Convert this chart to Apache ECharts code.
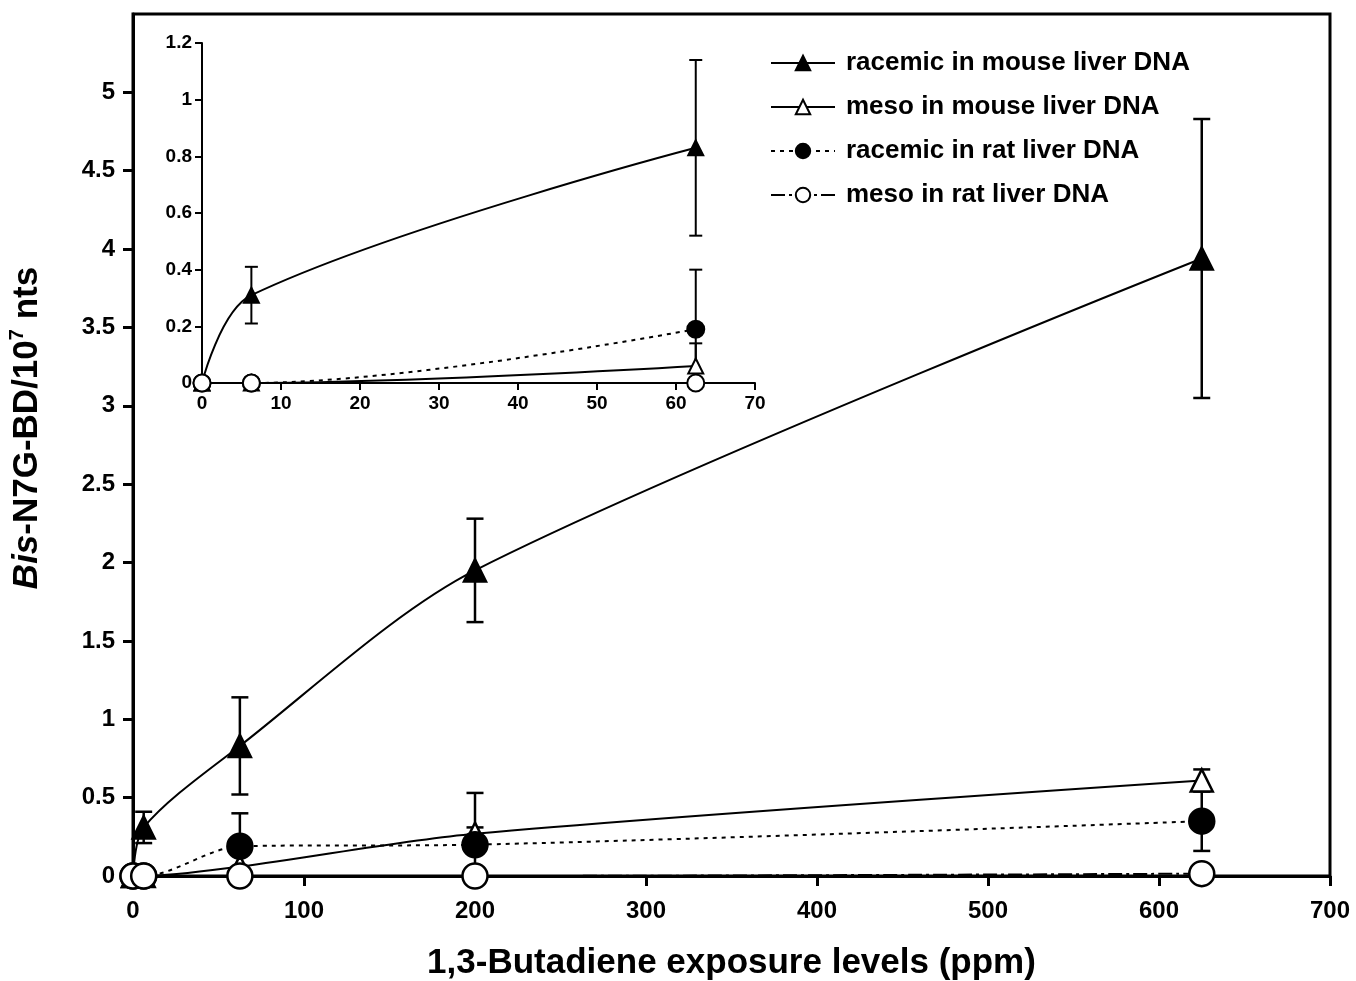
<!DOCTYPE html>
<html>
<head>
<meta charset="utf-8">
<script src="https://cdn.jsdelivr.net/npm/echarts@6/dist/echarts.min.js"></script>
<style>
html,body{margin:0;padding:0;background:#fff;}
#chart{width:1356px;height:981px;}
</style>
</head>
<body>
<div id="chart"></div>
<script>
// exposure levels (ppm)
var doses = [0, 6.25, 62.5, 200, 625];
var insetCount = 3; // inset shows the first three doses
// tick labels shown on the main y axis (axis runs to 5.5)
var yTicks = [0, 0.5, 1, 1.5, 2, 2.5, 3, 3.5, 4, 4.5, 5];
// series values (adducts / 10^7 nts) and their errors
var racMouse = [0, 0.31, 0.83, 1.95, 3.94];
var racMouseErr = [0, 0.10, 0.31, 0.33, 0.89];
var mesoMouse = [0, 0.0, 0.06, 0.27, 0.61];
var mesoMouseErr = [0, 0, 0.08, 0.04, 0.07];
var racRat = [0, 0, 0.19, 0.20, 0.35];
var racRatErr = [0, 0, 0.21, 0.33, 0.19];
var mesoRat = [0, 0, 0, 0, 0.015];
var mesoRatErr = [0, 0, 0, 0, 0];
var names = ['racemic in mouse liver DNA', 'meso in mouse liver DNA', 'racemic in rat liver DNA', 'meso in rat liver DNA'];

var fontFam = '"Liberation Sans", Arial, sans-serif';

function pairs(vals, n){
	var out = [];
	for (var i = 0; i < n; i++) out.push([doses[i], vals[i]]);
	return out;
}
function errPairs(vals, errs, n){
	var out = [];
	for (var i = 0; i < n; i++) {
		if (errs[i] > 0) out.push([doses[i], vals[i] - errs[i], vals[i] + errs[i]]);
	}
	return out;
}
//误差线
function errRender(capW, lw){
	return function(params, api){
		var x = api.value(0);
		var lo = api.coord([x, api.value(1)]);
		var hi = api.coord([x, api.value(2)]);
		var st = {stroke:'#000', lineWidth:lw};
		return {type:'group', children:[
			{type:'line', shape:{x1:lo[0], y1:lo[1], x2:hi[0], y2:hi[1]}, style:st},
			{type:'line', shape:{x1:hi[0]-capW/2, y1:hi[1], x2:hi[0]+capW/2, y2:hi[1]}, style:st},
			{type:'line', shape:{x1:lo[0]-capW/2, y1:lo[1], x2:lo[0]+capW/2, y2:lo[1]}, style:st}
		]};
	};
}

var styles = [
	{symbol:'triangle', fill:'#000', type:'solid', vals:racMouse, errs:racMouseErr},
	{symbol:'triangle', fill:'#fff', type:'solid', vals:mesoMouse, errs:mesoMouseErr},
	{symbol:'circle', fill:'#000', type:[4,5], vals:racRat, errs:racRatErr},
	{symbol:'circle', fill:'#fff', type:[14,4,3,4], vals:mesoRat, errs:mesoRatErr}
];

var series = [];
styles.forEach(function(s, i){
	// main chart
	series.push({
		name:names[i], type:'line', xAxisIndex:0, yAxisIndex:0,
		data:pairs(s.vals, doses.length), smooth:0.3,
		symbol:s.symbol, symbolSize:s.symbol == 'triangle' ? 22 : 25,
		lineStyle:{color:'#000', width:2, type:s.type},
		itemStyle:{color:s.fill, borderColor:'#000', borderWidth:2.5},
		z:3, animation:false
	});
	series.push({
		type:'custom', xAxisIndex:0, yAxisIndex:0, clip:true,
		renderItem:errRender(17, 2.5), data:errPairs(s.vals, s.errs, doses.length),
		encode:{x:0, y:[1,2]}, z:2, silent:true, animation:false
	});
	// inset
	series.push({
		name:names[i], type:'line', xAxisIndex:1, yAxisIndex:1,
		data:pairs(s.vals, insetCount), smooth:0.35,
		symbol:s.symbol, symbolSize:s.symbol == 'triangle' ? 15 : 17,
		lineStyle:{color:'#000', width:2, type:s.type},
		itemStyle:{color:s.fill, borderColor:'#000', borderWidth:2},
		z:3, animation:false
	});
	series.push({
		type:'custom', xAxisIndex:1, yAxisIndex:1, clip:true,
		renderItem:errRender(13, 2), data:errPairs(s.vals, s.errs, insetCount),
		encode:{x:0, y:[1,2]}, z:2, silent:true, animation:false
	});
});

var myChart = echarts.init(document.getElementById('chart'));
var option = {
	backgroundColor:'#fff',
	textStyle:{fontFamily:fontFam},
	legend:{
		data:names, orient:'vertical', left:765, top:45,
		itemWidth:64, itemHeight:18, itemGap:18,
		textStyle:{fontFamily:fontFam, fontSize:26, fontWeight:'bold', color:'#000', padding:[0,0,0,6]}
	},
	grid:[
		{left:133, right:26, top:14, bottom:105, outerBoundsMode:'none', show:true, borderColor:'#000', borderWidth:3, backgroundColor:'transparent'},
		{left:202, top:43, width:553, height:340, outerBoundsMode:'none'}
	],
	xAxis:[
		{
			gridIndex:0, type:'value', min:0, max:700, interval:100,
			name:'1,3-Butadiene exposure levels (ppm)', nameLocation:'middle', nameGap:70,
			nameTextStyle:{fontFamily:fontFam, fontSize:35, fontWeight:'bold', color:'#000'},
			axisLine:{lineStyle:{color:'#000', width:3}},
			axisTick:{inside:false, length:10, lineStyle:{color:'#000', width:3}},
			axisLabel:{margin:23, fontFamily:fontFam, fontSize:24, fontWeight:'bold', color:'#000'},
			splitLine:{show:false}
		},
		{
			gridIndex:1, type:'value', min:0, max:70, interval:10,
			axisLine:{onZero:false, lineStyle:{color:'#000', width:2}},
			axisTick:{length:7, lineStyle:{color:'#000', width:2}},
			axisLabel:{margin:11, fontFamily:fontFam, fontSize:19, fontWeight:'bold', color:'#000'},
			splitLine:{show:false}
		}
	],
	yAxis:[
		{
			gridIndex:0, type:'value', min:0, max:5.5, interval:0.5,
			name:'{i|Bis}{n|-N7G-BD/10}{s|7}{n| nts}', nameLocation:'middle', nameGap:86, nameRotate:90,
			nameTextStyle:{
				color:'#000', padding:[0,0,0,34],
				rich:{
					i:{fontFamily:fontFam, fontSize:35, fontWeight:'bold', fontStyle:'italic', color:'#000', lineHeight:40},
					n:{fontFamily:fontFam, fontSize:35, fontWeight:'bold', color:'#000', lineHeight:40},
					s:{fontFamily:fontFam, fontSize:20, fontWeight:'bold', color:'#000', lineHeight:22, verticalAlign:'top'}
				}
			},
			axisLine:{lineStyle:{color:'#000', width:3}},
			axisTick:{length:10, customValues:yTicks, lineStyle:{color:'#000', width:3}},
			axisLabel:{margin:18, customValues:yTicks, fontFamily:fontFam, fontSize:24, fontWeight:'bold', color:'#000'},
			splitLine:{show:false}
		},
		{
			gridIndex:1, type:'value', min:0, max:1.2, interval:0.2,
			axisLine:{show:true, onZero:false, lineStyle:{color:'#000', width:2}},
			axisTick:{show:true, length:7, lineStyle:{color:'#000', width:2}},
			axisLabel:{margin:10, fontFamily:fontFam, fontSize:19, fontWeight:'bold', color:'#000'},
			splitLine:{show:false}
		}
	],
	series:series
};
myChart.setOption(option);
</script>
</body>
</html>
